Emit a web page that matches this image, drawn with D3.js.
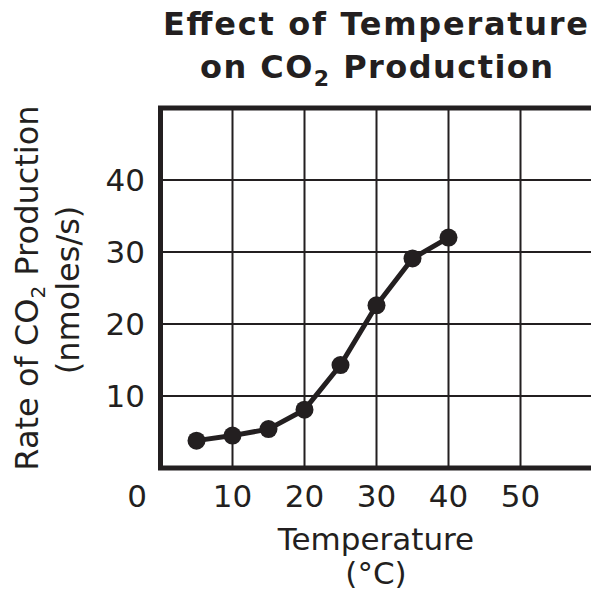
<!DOCTYPE html>
<html><head><meta charset="utf-8">
<script src="https://cdn.jsdelivr.net/npm/d3@7/dist/d3.min.js"></script>
<style>body{margin:0;background:#fff}svg{display:block}text{font-family:"DejaVu Sans",Verdana,sans-serif;fill:#231f20}</style>
</head><body><svg id="c" width="591" height="597"></svg>
<script>
const temperatures = [5, 10, 15, 20, 25, 30, 35, 40];
const co2Rates = [3.8, 4.5, 5.4, 8.1, 14.3, 22.6, 29.1, 32.0];
const xTicks = [10, 20, 30, 40, 50];
const yTicks = [10, 20, 30, 40];
const xGrid = [10, 20, 30, 40, 50];
const yGrid = [10, 20, 30, 40];

const svg = d3.select("#c");
const ink = "#231f20";
const x = d3.scaleLinear().domain([0, 60]).range([160.5, 592.5]);
const y = d3.scaleLinear().domain([0, 50]).range([468, 108]);

// grid
svg.append("g").selectAll("line").data(xGrid).join("line")
  .attr("x1", d => x(d)).attr("x2", d => x(d)).attr("y1", y(50)).attr("y2", y(0))
  .attr("stroke", ink).attr("stroke-width", 2);
svg.append("g").selectAll("line").data(yGrid).join("line")
  .attr("x1", x(0)).attr("x2", 591).attr("y1", d => y(d)).attr("y2", d => y(d))
  .attr("stroke", ink).attr("stroke-width", 2);

// frame: left, top, bottom
svg.append("path")
  .attr("d", `M591,${y(50)}H${x(0)}V${y(0)}H591`)
  .attr("fill", "none").attr("stroke", ink).attr("stroke-width", 5);

// line and points
const pts = temperatures.map((t, i) => [t, co2Rates[i]]);
svg.append("path").datum(pts)
  .attr("d", d3.line().x(d => x(d[0])).y(d => y(d[1])))
  .attr("fill", "none").attr("stroke", ink).attr("stroke-width", 5).attr("stroke-linejoin", "round");
svg.append("g").selectAll("circle").data(pts).join("circle")
  .attr("cx", d => x(d[0])).attr("cy", d => y(d[1])).attr("r", 9).attr("fill", ink);

// tick labels
const fs = 31;
svg.append("g").selectAll("text").data(xTicks).join("text")
  .attr("x", d => x(d)).attr("y", 507).attr("text-anchor", "middle")
  .attr("font-size", fs).text(d => d);
svg.append("g").selectAll("text").data(yTicks).join("text")
  .attr("x", 145).attr("y", d => y(d) + 11).attr("text-anchor", "end")
  .attr("font-size", fs).text(d => d);
svg.append("text").attr("x", 137).attr("y", 507).attr("text-anchor", "middle")
  .attr("font-size", fs).text(0);

// axis titles
svg.append("text").attr("x", 376).attr("y", 550).attr("text-anchor", "middle").attr("font-size", fs).text("Temperature");
svg.append("text").attr("x", 376).attr("y", 584).attr("text-anchor", "middle").attr("font-size", fs).text("(°C)");

const yl = svg.append("text").attr("transform", "translate(38,288) rotate(-90)").attr("text-anchor", "middle").attr("font-size", 32);
yl.append("tspan").text("Rate of CO");
yl.append("tspan").attr("font-size", 20).attr("dy", 7).text("2");
yl.append("tspan").attr("dy", -7).text(" Production");
svg.append("text").attr("transform", "translate(79,290) rotate(-90)").attr("text-anchor", "middle").attr("font-size", 32).text("(nmoles/s)");

// title
svg.append("text").attr("x", 375.5).attr("y", 35).attr("text-anchor", "middle")
  .attr("font-size", 32).attr("font-weight", "bold")
  .attr("textLength", 425).attr("lengthAdjust", "spacing").text("Effect of Temperature");
const t2 = svg.append("text").attr("x", 376.5).attr("y", 78).attr("text-anchor", "middle")
  .attr("font-size", 32).attr("font-weight", "bold")
  .attr("textLength", 353).attr("lengthAdjust", "spacing");
t2.append("tspan").text("on CO");
t2.append("tspan").attr("font-size", 22).attr("dy", 8).text("2");
t2.append("tspan").attr("dy", -8).text(" Production");
</script></body></html>
